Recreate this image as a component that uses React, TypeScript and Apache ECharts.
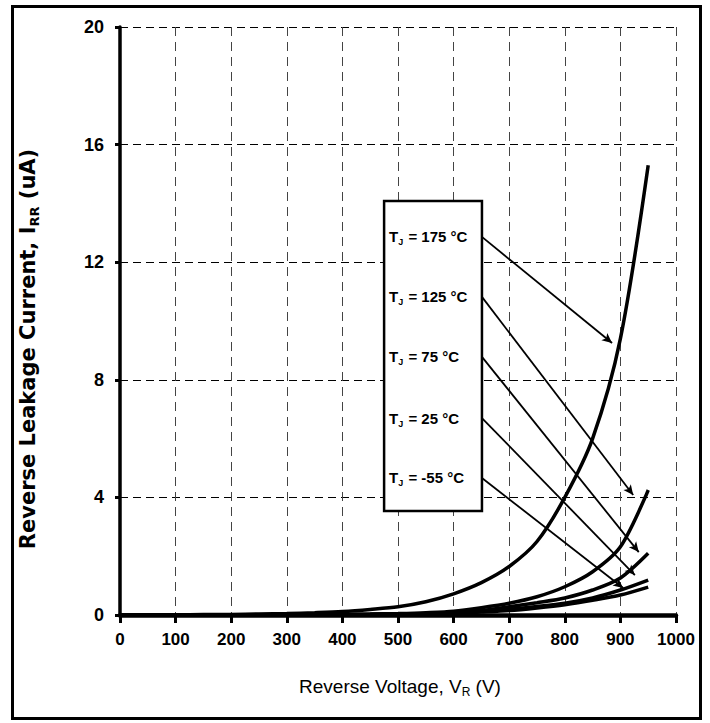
import React, { useEffect, useRef } from "react";
import * as echarts from "echarts";

// ---- data ----
const volts = [0, 50, 100, 150, 200, 250, 300, 350, 400, 450, 500, 550, 600, 650, 700, 750, 800, 850, 900, 950];
const i175 = [0, 0.005, 0.01, 0.015, 0.02, 0.035, 0.05, 0.08, 0.12, 0.19, 0.28, 0.45, 0.72, 1.1, 1.65, 2.5, 4.0, 6.0, 9.4, 15.3];
const i125 = [0, 0, 0.001, 0.001, 0.002, 0.003, 0.005, 0.01, 0.02, 0.03, 0.05, 0.08, 0.13, 0.25, 0.4, 0.62, 0.96, 1.47, 2.32, 4.25];
const i75 = [0, 0, 0, 0.001, 0.001, 0.002, 0.003, 0.006, 0.01, 0.02, 0.03, 0.05, 0.08, 0.15, 0.28, 0.42, 0.58, 0.85, 1.26, 2.1];
const i25 = [0, 0, 0, 0, 0.001, 0.002, 0.004, 0.007, 0.01, 0.02, 0.03, 0.05, 0.08, 0.13, 0.2, 0.29, 0.4, 0.58, 0.85, 1.19];
const im55 = [0, 0, 0, 0, 0.001, 0.002, 0.004, 0.007, 0.01, 0.015, 0.02, 0.035, 0.06, 0.1, 0.15, 0.24, 0.35, 0.5, 0.68, 0.95];

const tempLabels = ["175 °C", "125 °C", "75 °C", "25 °C", "-55 °C"];
// arrow start (at legend box edge) and end points, in data units
const arrowStartX = 651;
const arrowStartY = [12.86, 10.82, 8.78, 6.7, 4.66];
const arrowEndX = [885, 923, 933, 926, 905];
const arrowEndY = [9.25, 4.08, 2.14, 1.36, 0.92];
// legend box corners in data units
const boxX = [475, 651];
const boxY = [14.08, 3.54];

const xTicks = { min: 0, max: 1000, interval: 100 };
const yTicks = { min: 0, max: 20, interval: 4 };

const NARROW = "'Liberation Sans Narrow', 'Liberation Sans', Arial, sans-serif";
const WIDE = "'DejaVu Sans', sans-serif";

function pairs(xs: number[], ys: number[]) {
  return xs.map((x, i) => [x, ys[i]]);
}

export default function App() {
  const ref = useRef<HTMLDivElement>(null);
  useEffect(() => {
    if (!ref.current) return;
    const chart = echarts.init(ref.current, undefined, { renderer: "svg" });
    const curve = (name: string, data: number[][], extra: any = {}) => ({
      name,
      type: "line",
      data,
      smooth: 0.3,
      showSymbol: false,
      symbol: "none",
      lineStyle: { color: "#000", width: 3.5 },
      z: 3,
      ...extra,
    });
    const option: any = {
      animation: false,
      backgroundColor: "#fff",
      grid: { left: 120, top: 27, width: 556, height: 588, containLabel: false },
      xAxis: {
        type: "value",
        ...xTicks,
        axisLine: { show: true, onZero: false, lineStyle: { color: "#000", width: 4.5 } },
        axisTick: { show: true, length: 8, lineStyle: { color: "#000", width: 3 } },
        axisLabel: {
          margin: 16,
          fontFamily: NARROW,
          fontWeight: "bold",
          fontSize: 17,
          color: "#000",
          formatter: (v: number) => String(v),
        },
        splitLine: { show: true, lineStyle: { color: "#444", width: 1, type: [9, 6] } },
      },
      yAxis: {
        type: "value",
        ...yTicks,
        axisLine: { show: true, onZero: false, lineStyle: { color: "#000", width: 3.5 } },
        axisTick: { show: true, length: 5, lineStyle: { color: "#000", width: 3 } },
        axisLabel: {
          margin: 16,
          fontFamily: NARROW,
          fontWeight: "bold",
          fontSize: 18,
          color: "#000",
          formatter: (v: number) => String(v),
        },
        splitLine: { show: true, lineStyle: { color: "#000", width: 1, type: [8, 5] } },
      },
      series: [
        curve("-55", pairs(volts, im55)),
        curve("25", pairs(volts, i25)),
        curve("75", pairs(volts, i75)),
        curve("125", pairs(volts, i125)),
        curve("175", pairs(volts, i175), {
          markArea: {
            silent: true,
            itemStyle: { color: "#fff", borderColor: "#000", borderWidth: 2.5 },
            label: { show: false },
            data: [[{ coord: [boxX[0], boxY[0]] }, { coord: [boxX[1], boxY[1]] }]],
          },
          markLine: {
            silent: true,
            symbol: ["none", "arrow"],
            symbolSize: [7, 10],
            label: { show: false },
            lineStyle: { color: "#000", width: 1.8, type: "solid" },
            data: arrowStartY.map((sy, k) => [
              { coord: [arrowStartX, sy] },
              { coord: [arrowEndX[k], arrowEndY[k]] },
            ]),
          },
        }),
      ],
    };
    chart.setOption(option);

    const texts: any[] = tempLabels.map((lab, k) => {
      const p = chart.convertToPixel({ gridIndex: 0 }, [boxX[0], arrowStartY[k]]) as number[];
      return {
        type: "text",
        x: p[0] + 5,
        y: p[1],
        z: 20,
        style: {
          text: `{t|T}{j|J}{t| = ${lab}}`,
          verticalAlign: "middle",
          rich: {
            t: { fontFamily: NARROW, fontWeight: "bold", fontSize: 15, fill: "#000", lineHeight: 20, verticalAlign: "middle" },
            j: { fontFamily: NARROW, fontWeight: "bold", fontSize: 9, fill: "#000", lineHeight: 20, verticalAlign: "bottom", padding: [0, 1, 0, 0] },
          },
        },
      };
    });

    chart.setOption({
      graphic: [
        {
          type: "rect",
          shape: { x: 12.5, y: 6.5, width: 688, height: 712 },
          style: { fill: "none", stroke: "#000", lineWidth: 3 },
          z: 30,
          silent: true,
        },
        ...texts,
        {
          type: "text",
          x: 400,
          y: 686,
          z: 20,
          style: {
            text: "{a|Reverse Voltage, V}{s|R}{a| (V)}",
            align: "center",
            verticalAlign: "middle",
            rich: {
              a: { fontFamily: NARROW, fontSize: 19, fill: "#000", lineHeight: 24, verticalAlign: "middle" },
              s: { fontFamily: NARROW, fontSize: 12, fill: "#000", lineHeight: 24, verticalAlign: "bottom" },
            },
          },
        },
        {
          type: "text",
          x: 28,
          y: 349,
          rotation: Math.PI / 2,
          z: 20,
          style: {
            text: "{a|Reverse Leakage Current, I}{s|RR}{a| (uA)}",
            align: "center",
            verticalAlign: "middle",
            rich: {
              a: { fontFamily: WIDE, fontWeight: "bold", fontSize: 21, fill: "#000", lineHeight: 26, verticalAlign: "middle" },
              s: { fontFamily: WIDE, fontWeight: "bold", fontSize: 13, fill: "#000", lineHeight: 26, verticalAlign: "bottom" },
            },
          },
        },
      ],
    });
    return () => chart.dispose();
  }, []);
  return (
    <div
      ref={ref}
      style={{ position: "fixed", left: 0, top: 0, width: 710, height: 723 }}
    />
  );
}
